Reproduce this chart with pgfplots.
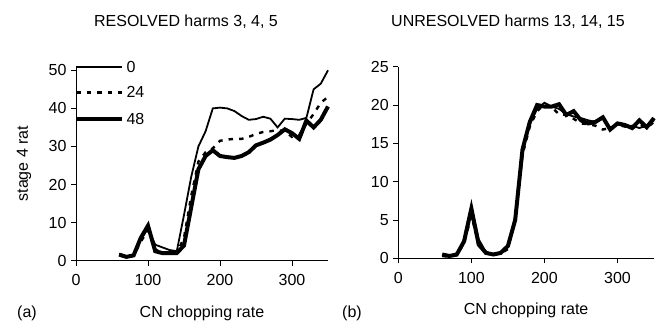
\documentclass[border=0pt]{standalone}
\usepackage{fontspec}
\setmainfont{Liberation Sans}
\usepackage{pgfplots}
\usepackage{pgfplotstable}
\pgfplotsset{compat=1.18}

\pgfplotstableread{
x a0 a24 a48
60 1.8 1.6 1.6
70 1.2 1.1 1.0
80 1.4 1.3 1.4
90 5.5 5.0 6.0
100 8.5 8.0 9.2
110 4.2 3.0 2.5
120 3.5 2.0 2.0
130 2.8 2.0 2.0
140 2.5 2.0 2.0
150 12 6 4
160 22 17 14
170 30 26 24
180 34 28.5 27.5
190 40 29.5 29
200 40.2 31.5 27.5
210 40 31.8 27.2
220 39.3 32 27
230 38 32 27.5
240 37 32.5 28.5
250 37.2 33.3 30.3
260 37.8 33.8 31
270 37.3 34 31.8
280 35 34.3 33
290 37.3 34 34.5
300 37.2 32.5 33.5
310 37 33 32
320 37.5 36 36.8
330 45 38.5 35
340 46.5 41.5 37
350 50 43 40.5
}\resolved

\pgfplotstableread{
x b0 b24 b48
60 0.4 0.3 0.5
70 0.2 0.2 0.3
80 0.5 0.4 0.5
90 2.5 2.0 2.2
100 6.8 5.5 6.5
110 2.5 2.0 1.8
120 0.8 0.8 0.7
130 0.5 0.5 0.5
140 0.6 0.6 0.7
150 1.5 1.2 1.6
160 5.5 5.0 5.0
170 14 13.5 14.2
180 17.5 17.2 17.8
190 19.5 19.2 20
200 20.3 20.1 19.8
210 19.8 19.7 19.8
220 19.5 18.8 20.1
230 18.8 18.7 18.7
240 18.5 18.2 19.2
250 18.3 17.6 18
260 18 17.5 17.6
270 17.8 17.3 17.8
280 18.3 16.8 18.4
290 17 17 16.8
300 17.5 17.4 17.6
310 17.2 17.2 17.4
320 17.3 16.9 17
330 17 17.5 18
340 17.3 17 17.1
350 18 17.8 18.3
}\unresolved

\pgfplotsset{
  myax/.style={
    scale only axis,
    axis lines=left,
    axis line style={-, line width=0.8pt},
    tick align=outside,
    major tick length=5pt,
    tick style={line width=0.8pt, black},
    xmin=0, xmax=350, ymin=0,
    xtick={0,100,200,300},
    /pgf/number format/assume math mode=true,
    tick label style={font=\fontsize{16}{19}\selectfont},
    label style={font=\fontsize{16}{19}\selectfont},
    yticklabel style={xshift=1pt},
    xticklabel style={yshift=-3pt},
    xlabel={CN chopping rate},
    xlabel style={at={(axis description cs:0.5,0)}, anchor=base, yshift=-56.5pt},
    clip=false,
  },
  s0/.style={black, line width=1.8pt},
  s24/.style={black, line width=2.4pt, dash pattern=on 4.5pt off 6pt},
  s48/.style={black, line width=4pt},
}

\begin{document}
\fontsize{16}{19}\selectfont
\begin{tikzpicture}
\useasboundingbox (0pt,0pt) rectangle (661pt,322pt);

\begin{axis}[myax,
  at={(76pt,61.3pt)}, anchor=south west,
  width=252pt, height=194.2pt,
  ymax=51, ytick={0,10,20,30,40,50},
  ylabel={stage 4 rat},
  ylabel style={at={(axis description cs:-0.206,0.5)}, anchor=center},
]
\addplot[s0] table[x=x, y=a0] {\resolved};
\addplot[s24] table[x=x, y=a24] {\resolved};
\addplot[s48] table[x=x, y=a48] {\resolved};
% legend samples
\addplot[s0] coordinates {(0,50.9) (64,50.9)};
\addplot[s24] coordinates {(0,44.2) (64,44.2)};
\addplot[s48] coordinates {(0,37.3) (64,37.3)};
\node[anchor=west, inner sep=0pt] at (axis cs:70,50.9) {0};
\node[anchor=west, inner sep=0pt] at (axis cs:70,44.2) {24};
\node[anchor=west, inner sep=0pt] at (axis cs:70,37.3) {48};
\end{axis}

\begin{axis}[myax,
  at={(398.3pt,63.7pt)}, anchor=south west,
  width=255.7pt, height=191.6pt,
  ymax=25, ytick={0,5,10,15,20,25},
]
\addplot[s0] table[x=x, y=b0] {\unresolved};
\addplot[s24] table[x=x, y=b24] {\unresolved};
\addplot[s48] table[x=x, y=b48] {\unresolved};
\end{axis}

\node[anchor=base] at (186pt,295.3pt) {RESOLVED harms 3, 4, 5};
\node[anchor=base] at (508pt,295pt) {UNRESOLVED harms 13, 14, 15};
\node[anchor=base] at (27pt,4.7pt) {(a)};
\node[anchor=base] at (352pt,4.7pt) {(b)};
\end{tikzpicture}
\end{document}
